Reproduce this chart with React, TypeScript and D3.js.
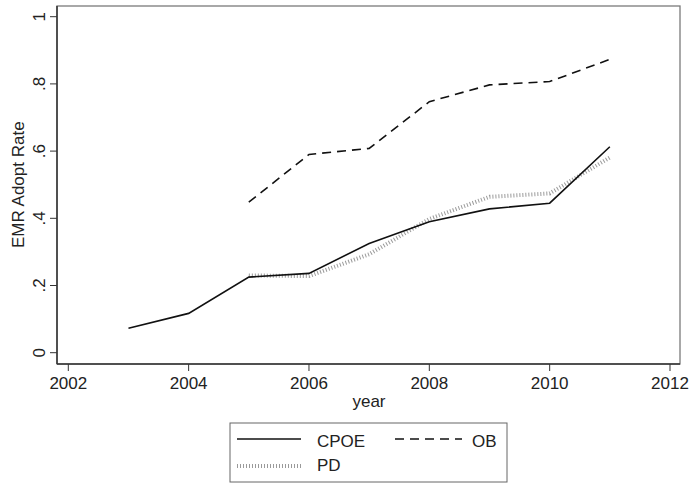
import React from "react";
import * as d3 from "d3";

const years = [2003, 2004, 2005, 2006, 2007, 2008, 2009, 2010, 2011];
const cpoe = [0.073, 0.117, 0.225, 0.236, 0.325, 0.39, 0.428, 0.445, 0.613];
const obYears = [2005, 2006, 2007, 2008, 2009, 2010, 2011];
const ob = [0.448, 0.59, 0.608, 0.747, 0.797, 0.807, 0.873];
const pdYears = [2005, 2006, 2007, 2008, 2009, 2010, 2011];
const pd = [0.23, 0.228, 0.293, 0.398, 0.464, 0.474, 0.581];
const xTicks = [2002, 2004, 2006, 2008, 2010, 2012];
const yTicks = [0, 0.2, 0.4, 0.6, 0.8, 1];
const yTickLabels = ["0", ".2", ".4", ".6", ".8", "1"];

export default function App() {
  const W = 691, H = 485;
  const x = d3.scaleLinear().domain([2002, 2012]).range([68.3, 670]);
  const y = d3.scaleLinear().domain([0, 1]).range([352.7, 16.7]);
  const line = d3
    .line<[number, number]>()
    .x((d) => x(d[0]))
    .y((d) => y(d[1]));
  const font = "'Liberation Sans', Arial, Helvetica, sans-serif";
  const fs = 17;
  const frame = { l: 57, r: 680, t: 6, b: 364 };
  return (
    <svg width={W} height={H} style={{ position: "absolute", left: 0, top: 0, background: "#fff" }} fontFamily={font}>
      <rect x={0} y={0} width={W} height={H} fill="#fff" />
      <rect x={frame.l} y={frame.t} width={frame.r - frame.l} height={frame.b - frame.t} fill="none" stroke="#7a7a7a" strokeWidth={1.3} />
      <line x1={frame.l} x2={frame.l} y1={frame.t} y2={frame.b} stroke="#333" strokeWidth={1.5} />
      <line x1={frame.l} x2={frame.r} y1={frame.b} y2={frame.b} stroke="#333" strokeWidth={1.5} />
      {yTicks.map((t, i) => (
        <g key={"y" + i}>
          <line x1={frame.l - 7} x2={frame.l} y1={y(t)} y2={y(t)} stroke="#333" strokeWidth={1} />
          <text transform={`translate(${44.5},${y(t)}) rotate(-90)`} textAnchor="middle" fontSize={fs} fill="#222">
            {yTickLabels[i]}
          </text>
        </g>
      ))}
      {xTicks.map((t, i) => (
        <g key={"x" + i}>
          <line x1={x(t)} x2={x(t)} y1={frame.b} y2={frame.b + 7} stroke="#333" strokeWidth={1} />
          <text x={x(t)} y={389} textAnchor="middle" fontSize={fs} fill="#222">
            {t}
          </text>
        </g>
      ))}
      <text transform={`translate(23.5,${y(0.5)}) rotate(-90)`} textAnchor="middle" fontSize={fs} fill="#222">
        EMR Adopt Rate
      </text>
      <text x={369} y={407} textAnchor="middle" fontSize={fs} fill="#222">year</text>

      <path d={line(pdYears.map((yr, i) => [yr, pd[i]]) as any) || ""} fill="none" stroke="#9a9a9a" strokeWidth={4} strokeDasharray="1 2" />
      <path d={line(years.map((yr, i) => [yr, cpoe[i]]) as any) || ""} fill="none" stroke="#111" strokeWidth={1.6} />
      <path d={line(obYears.map((yr, i) => [yr, ob[i]]) as any) || ""} fill="none" stroke="#111" strokeWidth={1.6} strokeDasharray="9 6" />

      <rect x={230} y={423} width={277} height={59} fill="#fff" stroke="#666" strokeWidth={1} />
      <line x1={237} x2={301} y1={439} y2={439} stroke="#111" strokeWidth={1.6} />
      <text x={317} y={447} fontSize={fs} fill="#222">CPOE</text>
      <line x1={395} x2={462} y1={439} y2={439} stroke="#111" strokeWidth={1.6} strokeDasharray="9 6" />
      <text x={472} y={447} fontSize={fs} fill="#222">OB</text>
      <line x1={237} x2={301} y1={466} y2={466} stroke="#9a9a9a" strokeWidth={4} strokeDasharray="1 2" />
      <text x={317} y={471} fontSize={fs} fill="#222">PD</text>
    </svg>
  );
}
